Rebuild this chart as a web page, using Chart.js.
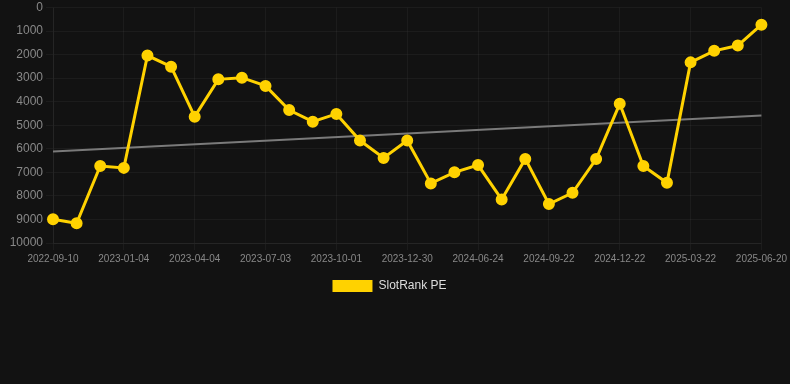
<!DOCTYPE html>
<html>
<head>
<meta charset="utf-8">
<script src="https://cdn.jsdelivr.net/npm/chart.js@4.4.1/dist/chart.umd.min.js"></script>
<style>
    html, body { margin: 0; padding: 0; background: #121212; }
    #wrap { position: relative; width: 790px; height: 302px; }
</style>
</head>
<body>
<div id="wrap"><canvas id="rankChart"></canvas></div>
<script>
// dates of each rank sample (only every third one is shown on the axis)
const dateLabels = [
    '2022-09-10', '2022-10-15', '2022-11-30', '2023-01-04', '2023-02-03', '2023-03-05',
    '2023-04-04', '2023-05-04', '2023-06-03', '2023-07-03', '2023-08-02', '2023-09-01',
    '2023-10-01', '2023-10-31', '2023-11-30', '2023-12-30', '2024-02-28', '2024-04-26',
    '2024-06-24', '2024-07-24', '2024-08-23', '2024-09-22', '2024-10-22', '2024-11-22',
    '2024-12-22', '2025-01-21', '2025-02-20', '2025-03-22', '2025-04-21', '2025-05-21',
    '2025-06-20',
];
const rankValues = [
    8990, 9160, 6730, 6810, 2040, 2515, 4635, 3050, 2980, 3330, 4355, 4850,
    4520, 5650, 6390, 5650, 7470, 7000, 6690, 8150, 6430, 8345, 7870, 6435,
    4090, 6730, 7445, 2330, 1840, 1615, 730,
];
// trend line end points
const trendStart = 6110;
const trendEnd = 4590;

const trendValues = dateLabels.map((d, i) => {
    if (i === 0) return trendStart;
    if (i === dateLabels.length - 1) return trendEnd;
    return null;
});

const YELLOW = '#FFD200';
const GRID = 'rgba(255,255,255,0.045)';
const FONT = 'Arial, "Liberation Sans", sans-serif';

const ctx = document.getElementById('rankChart').getContext('2d');
const chart = new Chart(ctx, {
    type: 'line',
    data: {
        labels: dateLabels,
        datasets: [
            {
                label: 'SlotRank PE',
                data: rankValues,
                borderColor: YELLOW,
                backgroundColor: YELLOW,
                pointBackgroundColor: YELLOW,
                pointBorderColor: YELLOW,
                borderWidth: 3,
                pointRadius: 4.5,
                tension: 0,
                order: 1,
            },
            {
                label: 'trend',
                data: trendValues,
                borderColor: '#7a7a7a',
                borderWidth: 2,
                pointRadius: 0,
                spanGaps: true,
                order: 2,
            },
        ],
    },
    options: {
        responsive: true,
        maintainAspectRatio: false,
        animation: false,
        layout: {
            padding: { left: 0, right: 11, top: 0, bottom: 0 },
        },
        plugins: {
            legend: {
                position: 'bottom',
                labels: {
                    color: '#dddddd',
                    boxWidth: 40,
                    boxHeight: 12,
                    padding: 12,
                    font: { family: FONT, size: 12 },
                    filter: (item) => item.text !== 'trend',
                    generateLabels(c) {
                        const items = Chart.defaults.plugins.legend.labels.generateLabels(c);
                        items.forEach((it) => { it.lineWidth = 0; });
                        return items;
                    },
                },
            },
            tooltip: { enabled: false },
        },
        scales: {
            x: {
                grid: {
                    tickLength: 7,
                    color: (c) => (c.index % 3 === 0 ? GRID : 'rgba(0,0,0,0)'),
                },
                border: { color: GRID },
                ticks: {
                    color: '#888888',
                    autoSkip: false,
                    maxRotation: 0,
                    minRotation: 0,
                    font: { family: FONT, size: 10 },
                    callback(value, index) {
                        return index % 3 === 0 ? this.getLabelForValue(value) : '';
                    },
                },
            },
            y: {
                reverse: true,
                min: 0,
                max: 10000,
                grid: { color: GRID, tickLength: 7 },
                border: { color: GRID },
                ticks: {
                    color: '#888888',
                    stepSize: 1000,
                    font: { family: FONT, size: 12 },
                    callback: (v) => String(v),
                },
                afterFit(scale) {
                    scale.width = 53;
                    scale.paddingTop = 5;
                },
            },
        },
    },
});
</script>
</body>
</html>
